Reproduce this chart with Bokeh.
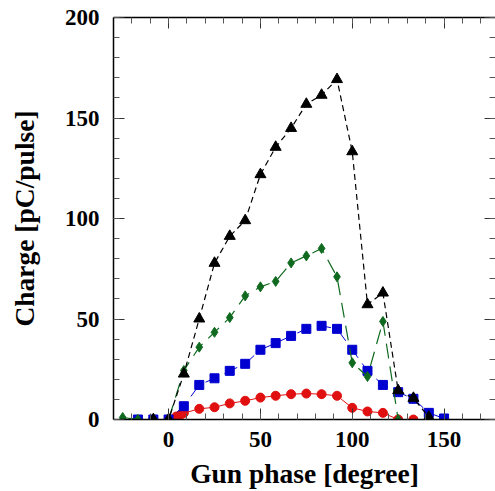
from bokeh.plotting import figure
from bokeh.models import LinearAxis, SingleIntervalTicker, Range1d, CustomJSTickFormatter
from bokeh.embed import file_html
from bokeh.resources import INLINE

# ---- data ----
x_black = [-8.3, 0, 8.3, 16.7, 25, 33.3, 41.7, 50, 58.3, 66.7, 75, 83.3, 91.7, 100, 108.3, 116.7, 125, 133.3, 141.7]
y_black = [0, 0, 22.7, 50.1, 77.8, 91.2, 99.0, 121.9, 135.5, 144.9, 156.9, 161.4, 169.2, 133.3, 57.2, 63.0, 14.4, 10.6, 1.2]

x_green = [-25, -16.7, -8.3, 0, 8.3, 16.7, 25, 33.3, 41.7, 50, 58.3, 66.7, 75, 83.3, 91.7, 100, 108.3, 116.7, 125]
y_green = [1, 0, 0, 0, 24.4, 36.0, 43.4, 50.7, 61.5, 66.0, 68.7, 77.9, 81.4, 85.1, 71.0, 28.2, 21.4, 48.8, 0]

x_blue = [-16.7, -8.3, 0, 8.3, 16.7, 25, 33.3, 41.7, 50, 58.3, 66.7, 75, 83.3, 91.7, 100, 108.3, 116.7, 125, 133.3, 141.7, 150]
y_blue = [0, 0, 0, 6.6, 17.2, 20.5, 24.2, 27.7, 34.7, 38.0, 41.6, 45.1, 46.6, 45.1, 34.7, 24.2, 17.2, 13.6, 10.3, 3.3, 0.5]

x_red = [-8.3, 0, 4.2, 6.7, 8.3, 16.7, 25, 33.3, 41.7, 50, 58.3, 66.7, 75, 83.3, 91.7, 100, 108.3, 116.7, 125, 133.3]
y_red = [0, 0, 1.5, 2.5, 3.2, 5.3, 6.1, 8.0, 9.3, 10.9, 11.8, 12.6, 12.9, 12.6, 11.8, 5.8, 4.0, 3.3, 0, 0]

x_label = "Gun phase [degree]"
y_label = "Charge [pC/pulse]"

FONT = "Liberation Serif"
BLACK = "#000000"
GREEN = "#0f6a1f"
BLUE = "#0000d0"
RED = "#e01010"

p = figure(width=495, height=491, output_backend="svg", toolbar_location=None,
           x_range=Range1d(-30, 178), y_range=Range1d(0, 200),
           min_border_left=113, min_border_right=0, min_border_top=17, min_border_bottom=72,
           background_fill_color="white", border_fill_color="white")
p.outline_line_color = None
p.grid.visible = False

# series
p.line(x_red, y_red, line_color=RED, line_width=1)
p.scatter(x_red, y_red, marker="circle", size=9, fill_color=RED, line_color=RED)

p.line(x_blue, y_blue, line_color=BLUE, line_width=1, line_dash="14 7")
p.scatter(x_blue, y_blue, marker="square", size=9, fill_color=BLUE, line_color=BLUE)

p.line(x_green, y_green, line_color=GREEN, line_width=1.2, line_dash="15 8")
p.scatter(x_green, y_green, marker="diamond", size=10, fill_color=GREEN, line_color=GREEN)

p.line(x_black, y_black, line_color=BLACK, line_width=1.2, line_dash="6 4")
p.scatter(x_black, y_black, marker="triangle", size=11, fill_color=BLACK, line_color=BLACK)

def style_axis(ax, show_labels, show_line=True):
    ax.major_tick_in = 11
    ax.major_tick_out = 0
    ax.minor_tick_in = 6
    ax.minor_tick_out = 0
    ax.major_tick_line_color = "#333333"
    ax.minor_tick_line_color = "#555555"
    ax.major_tick_line_width = 1
    ax.minor_tick_line_width = 1
    ax.axis_line_width = 1.5
    ax.axis_line_color = BLACK if show_line else None
    if show_labels:
        ax.major_label_text_font = FONT
        ax.major_label_text_font_style = "bold"
        ax.major_label_text_font_size = "23px"
        ax.major_label_text_color = BLACK
        ax.axis_label_text_font = FONT
        ax.axis_label_text_font_style = "bold"
        ax.axis_label_text_font_size = "27.5px"
        ax.axis_label_text_color = BLACK
    else:
        ax.formatter = CustomJSTickFormatter(code="return '';")
        ax.major_label_standoff = 0
        ax.axis_label = None
        ax.axis_label_standoff = 0

p.xaxis.ticker = SingleIntervalTicker(interval=50, num_minor_ticks=5)
p.yaxis.ticker = SingleIntervalTicker(interval=50, num_minor_ticks=5)
p.xaxis.axis_label = x_label
p.yaxis.axis_label = y_label
style_axis(p.xaxis[0], True)
style_axis(p.yaxis[0], True)
p.xaxis.major_label_standoff = 12
p.yaxis.major_label_standoff = 14
p.xaxis.axis_label_standoff = 8
p.yaxis.axis_label_standoff = 22

top = LinearAxis(ticker=SingleIntervalTicker(interval=50, num_minor_ticks=5))
style_axis(top, False)
p.add_layout(top, "above")
right = LinearAxis(ticker=SingleIntervalTicker(interval=50, num_minor_ticks=5))
style_axis(right, False, show_line=False)
p.add_layout(right, "right")

open("out.html", "w").write(file_html(p, INLINE))
